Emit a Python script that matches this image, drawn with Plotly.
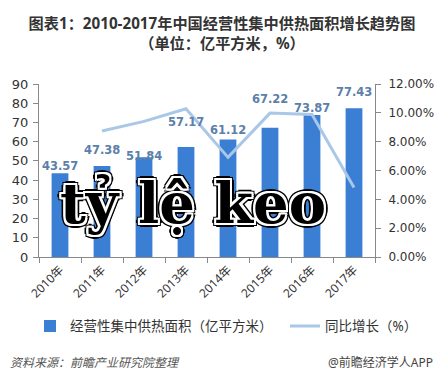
import plotly.graph_objects as go

years = ["2010年", "2011年", "2012年", "2013年", "2014年", "2015年", "2016年", "2017年"]
area = [43.57, 47.38, 51.84, 57.17, 61.12, 67.22, 73.87, 77.43]
growth_years = years[1:]
growth = [0.0874, 0.0941, 0.1028, 0.0691, 0.0998, 0.0989, 0.0482]
label_shift = [7, 16, 1, 25, 10, 29, 7, 16]

FONT = "Noto Sans, Noto Sans CJK SC, sans-serif"
NUMFONT = "DejaVu Sans, sans-serif"
BAR = "#3b7fd4"
LINE = "#a9c7e6"

fig = go.Figure()
fig.add_trace(go.Bar(
    x=years, y=area, name="经营性集中供热面积（亿平方米）",
    marker=dict(color=BAR, line=dict(width=0)), yaxis="y", legend="legend",
))
fig.add_trace(go.Scatter(
    x=growth_years, y=growth, name="同比增长（%）", mode="lines",
    line=dict(color=LINE, width=3), yaxis="y2", legend="legend2",
))

for yr, v, s in zip(years, area, label_shift):
    fig.add_annotation(x=yr, y=v, xref="x", yref="y", text=f"{v:.2f}",
                       showarrow=False, yanchor="middle", yshift=s,
                       font=dict(family=NUMFONT, size=11.5, color="#5b80aa", weight="bold"))

fig.add_annotation(x=0.458, y=0.31, xref="paper", yref="paper", text="tỷ lệ keo",
                   showarrow=False, xanchor="center", yanchor="middle",
                   font=dict(family="DejaVu Serif", size=56, color="black", weight="bold",
                             shadow="2px 0 0 white, -2px 0 0 white, 0 2px 0 white, 0 -2px 0 white, 2px 2px 0 white, -2px -2px 0 white, 2px -2px 0 white, -2px 2px 0 white, 4px 0 0 black, -4px 0 0 black, 0 4px 0 black, 0 -4px 0 black, 3px 3px 0 black, -3px -3px 0 black, 3px -3px 0 black, -3px 3px 0 black"))

fig.add_annotation(x=(8 - 39) / 336, y=(257.5 - 363) / 173.5, xref="paper", yref="paper",
                   text="资料来源：前瞻产业研究院整理",
                   showarrow=False, xanchor="left", yanchor="middle",
                   font=dict(family=FONT, size=12, color="#555555", style="italic"))
fig.add_annotation(x=(435 - 39) / 336, y=(257.5 - 363) / 173.5, xref="paper", yref="paper",
                   text="@前瞻经济学人APP",
                   showarrow=False, xanchor="right", yanchor="middle",
                   font=dict(family=FONT, size=12, color="#444444"))

legend_font = dict(family=FONT, size=13.5, color="#333333")
fig.update_layout(
    width=444, height=383,
    margin=dict(l=39, r=69, t=84, b=125.5, autoexpand=False),
    paper_bgcolor="white", plot_bgcolor="white",
    bargap=0.6,
    title=dict(text="<b>图表1：2010-2017年中国经营性集中供热面积增长趋势图<br>（单位：亿平方米，%）</b>",
               x=0.5, xanchor="center", y=1 - 29 / 383, yanchor="middle", yref="container",
               font=dict(family=FONT, size=15.2, color="#333333")),
    xaxis=dict(showline=True, linecolor="#888888", ticks="outside", ticklen=5, tickcolor="#888888",
               tickson="boundaries", tickangle=-45, showgrid=False,
               tickfont=dict(family=FONT, size=12, color="#333333")),
    yaxis=dict(range=[0, 90], dtick=10, showline=True, linecolor="#888888", ticks="outside",
               ticklen=5, tickcolor="#888888", showgrid=False, zeroline=False, ticklabelstandoff=2,
               tickfont=dict(family=NUMFONT, size=13, color="#333333")),
    yaxis2=dict(range=[0, 0.12], dtick=0.02, tickformat=".2%", overlaying="y", side="right",
                showline=True, linecolor="#888888", ticks="outside", ticklen=5, tickcolor="#888888",
                showgrid=False, zeroline=False, ticklabelstandoff=5,
                tickfont=dict(family=NUMFONT, size=12, color="#333333")),
    legend=dict(orientation="h", x=(30 - 39) / 336, y=(257.5 - 327) / 173.5, xanchor="left",
                yanchor="middle", font=legend_font, itemwidth=30, bgcolor="rgba(0,0,0,0)"),
    legend2=dict(orientation="h", x=(285 - 39) / 336, y=(257.5 - 327) / 173.5, xanchor="left",
                 yanchor="middle", font=legend_font, itemwidth=30, bgcolor="rgba(0,0,0,0)"),
    showlegend=True,
)

fig.write_html("out.html", config={"displayModeBar": False},
               post_script="document.body.style.margin='0';")
